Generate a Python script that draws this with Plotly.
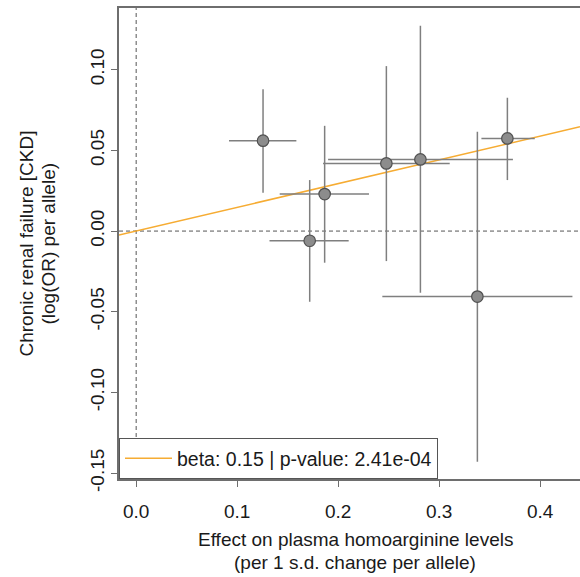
import plotly.graph_objects as go

# ---- data ----
effect_x = [0.1256, 0.1718, 0.1866, 0.2477, 0.2814, 0.3378, 0.3675]
effect_y = [0.0560, -0.0060, 0.0229, 0.0419, 0.0444, -0.0406, 0.0574]
x_low = [0.0919, 0.1320, 0.1421, 0.1850, 0.1900, 0.2437, 0.3418]
x_high = [0.1586, 0.2104, 0.2305, 0.3104, 0.3730, 0.4319, 0.3946]
y_low = [0.0237, -0.0438, -0.0196, -0.0186, -0.0382, -0.1429, 0.0316]
y_high = [0.0878, 0.0316, 0.0652, 0.1022, 0.1272, 0.0615, 0.0826]
beta_slope = 0.147
legend_label = "beta: 0.15 | p-value: 2.41e-04"

x_ticks = [0.0, 0.1, 0.2, 0.3, 0.4]
x_tick_text = ["0.0", "0.1", "0.2", "0.3", "0.4"]
y_ticks = [-0.15, -0.10, -0.05, 0.00, 0.05, 0.10]
y_tick_text = ["-0.15", "-0.10", "-0.05", "0.00", "0.05", "0.10"]

x_title_lines = ["Effect on plasma homoarginine levels", "(per 1 s.d. change per allele)"]
y_title_lines = ["Chronic renal failure [CKD]", "(log(OR) per allele)"]

x_range = [-0.0170, 0.4394]
y_range = [-0.1536, 0.1382]

FONT = "Liberation Sans, Arial, sans-serif"
AX = "#6e6e6e"
GRAY = "#7f7f7f"
TXT = "#1a1a1a"

fig = go.Figure()

# regression line through origin
fig.add_trace(go.Scatter(
    x=x_range, y=[beta_slope * v for v in x_range],
    mode="lines", line=dict(color="#F6AC33", width=1.5),
    name=legend_label, showlegend=True, hoverinfo="skip",
))

# points with error bars
fig.add_trace(go.Scatter(
    x=effect_x, y=effect_y, mode="markers",
    marker=dict(size=11.5, color="#8c8c8c", line=dict(color="#505050", width=1.2)),
    error_x=dict(type="data", symmetric=False,
                 array=[h - v for h, v in zip(x_high, effect_x)],
                 arrayminus=[v - l for l, v in zip(x_low, effect_x)],
                 color=GRAY, thickness=1.5, width=0),
    error_y=dict(type="data", symmetric=False,
                 array=[h - v for h, v in zip(y_high, effect_y)],
                 arrayminus=[v - l for l, v in zip(y_low, effect_y)],
                 color=GRAY, thickness=1.5, width=0),
    showlegend=False,
))

fig.add_hline(y=0, line=dict(color="#555555", width=1, dash="4px,3px"), layer="below")
fig.add_vline(x=0, line=dict(color="#555555", width=1, dash="4px,3px"), layer="below")

# axis titles (two lines each, R-style)
for text, shift in zip(x_title_lines, [-60, -83]):
    fig.add_annotation(text=text, xref="paper", yref="paper", x=0.512, y=0,
                       xanchor="center", yanchor="middle", yshift=shift,
                       showarrow=False, font=dict(family=FONT, size=19, color=TXT))
for text, shift in zip(y_title_lines, [-93, -71]):
    fig.add_annotation(text=text, xref="paper", yref="paper", x=0, y=0.5,
                       xanchor="center", yanchor="middle", xshift=shift, textangle=-90,
                       showarrow=False, font=dict(family=FONT, size=19, color=TXT))

fig.update_layout(
    width=580, height=577,
    margin=dict(l=119, r=0, t=8, b=98, autoexpand=False),
    paper_bgcolor="white", plot_bgcolor="white",
    font=dict(family=FONT, size=19, color=TXT),
    showlegend=True,
    legend=dict(x=0, y=0, xanchor="left", yanchor="bottom",
                bgcolor="white", bordercolor="#555555", borderwidth=1,
                itemwidth=47, font=dict(size=19.5)),
    xaxis=dict(range=x_range, tickvals=x_ticks, ticktext=x_tick_text,
               automargin=False, ticklabelstandoff=8,
               showgrid=False, zeroline=False, showline=True, mirror=True,
               linecolor=AX, linewidth=1.5, ticks="outside", ticklen=6,
               tickcolor=AX, tickwidth=1),
    yaxis=dict(range=y_range, tickvals=y_ticks, ticktext=y_tick_text,
               tickangle=-90, automargin=False,
               showgrid=False, zeroline=False, showline=True, mirror=True,
               linecolor=AX, linewidth=1.5, ticks="outside", ticklen=6,
               tickcolor=AX, tickwidth=1),
)

fig.write_html("out.html", config={"displayModeBar": False},
               post_script="document.body.style.margin='0';")
